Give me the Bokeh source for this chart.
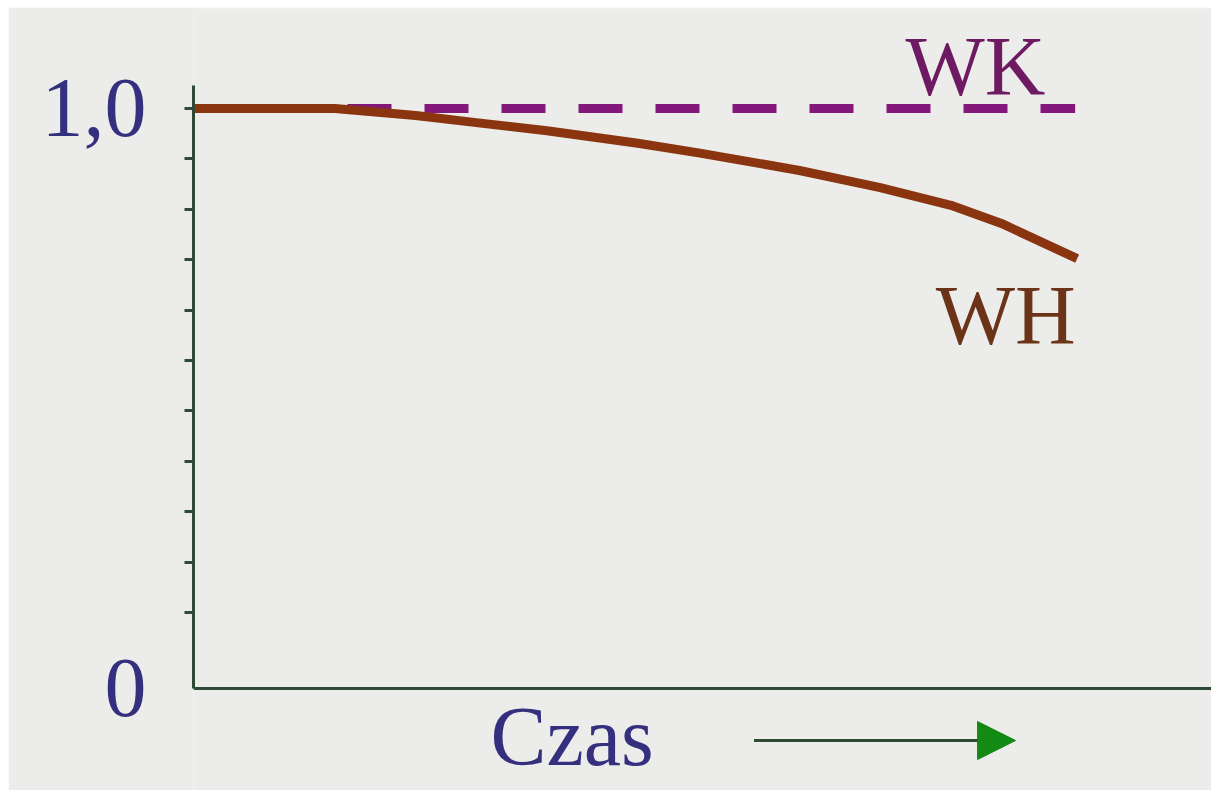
from bokeh.plotting import figure
from bokeh.models import (FixedTicker, CustomJSTickFormatter, Label, Arrow,
                          NormalHead, Range1d)
from bokeh.core.properties import value
from bokeh.embed import file_html
from bokeh.resources import INLINE

# ---- data ----
wh_time = [0.0, 1.4, 2.2, 2.8, 3.5, 4.4, 5.0, 6.0, 6.8, 7.5, 8.0, 8.75]
wh_value = [1.0, 1.0, 0.986, 0.972, 0.956, 0.931, 0.912, 0.877, 0.843, 0.808, 0.772, 0.702]
wk_time = [0.0, 8.73]
wk_value = [1.0, 1.0]
minor_tick_values = [0.0, 0.1, 0.2, 0.3, 0.4, 0.5, 0.6, 0.7, 0.8, 0.9, 1.0]
major_tick_values = [-0.15, 1.0]
series_names = ["WK", "WH"]
axis_title = "Czas"

BG = "#ECECEA"
AXIS = "#2d4a34"
NAVY = "#35307d"
BROWN = "#8a3510"
PURPLE = "#84177a"
SERIF = "Liberation Serif"

p = figure(width=1203, height=783, margin=(7, 0, 0, 8),
           output_backend="svg", toolbar_location=None,
           x_range=Range1d(0, 10.08), y_range=Range1d(-0.3532, 1.1984),
           background_fill_color=BG, border_fill_color=BG,
           min_border_left=185, min_border_right=0, min_border_top=1,
           min_border_bottom=0)
p.outline_line_color = None
p.grid.visible = False

# y axis
ya = p.yaxis[0]
ya.ticker = FixedTicker(ticks=major_tick_values, minor_ticks=minor_tick_values)
ya.formatter = CustomJSTickFormatter(code="return tick > 0.5 ? '1,0' : '0';")
ya.bounds = (-0.15, 1.046)
ya.axis_line_color = AXIS
ya.axis_line_width = 3
ya.major_tick_in = 0
ya.major_tick_out = 0
ya.minor_tick_in = 0
ya.minor_tick_out = 9
ya.minor_tick_line_color = AXIS
ya.minor_tick_line_width = 3
ya.major_label_standoff = 38
ya.major_label_text_font = SERIF
ya.major_label_text_font_size = "84px"
ya.major_label_text_color = NAVY

# x axis (drawn at the origin level inside the frame)
xa = p.xaxis[0]
xa.fixed_location = -0.15
xa.axis_line_color = AXIS
xa.axis_line_width = 3
xa.major_tick_line_color = None
xa.minor_tick_line_color = None
xa.major_label_text_color = None
xa.major_label_text_font_size = "1px"

# series
p.line(wk_time, wk_value, line_color=PURPLE, line_width=9, line_dash="44 33",
       line_cap="butt")
p.line(wh_time, wh_value, line_color=BROWN, line_width=9, line_join="round")

p.text(x=[7.05], y=[1.0833], text=[series_names[0]], text_font=value(SERIF),
       text_font_size="84px", text_color="#6e1a62", text_baseline="middle")
p.text(x=[7.35], y=[0.589], text=[series_names[1]], text_font=value(SERIF),
       text_font_size="84px", text_color="#6b3418", text_baseline="middle")

# axis title and arrow below the x axis
p.add_layout(Label(x=2.94, y=-0.246, text=axis_title, text_font=SERIF,
                   text_font_size="84px", text_color=NAVY,
                   text_baseline="middle"))
p.add_layout(Arrow(x_start=5.55, y_start=-0.254, x_end=8.14, y_end=-0.254,
                   line_color=AXIS, line_width=3,
                   end=NormalHead(size=38, fill_color="#138a13",
                                  line_color="#138a13", line_width=1)))

open("out.html", "w").write(file_html(p, INLINE))
